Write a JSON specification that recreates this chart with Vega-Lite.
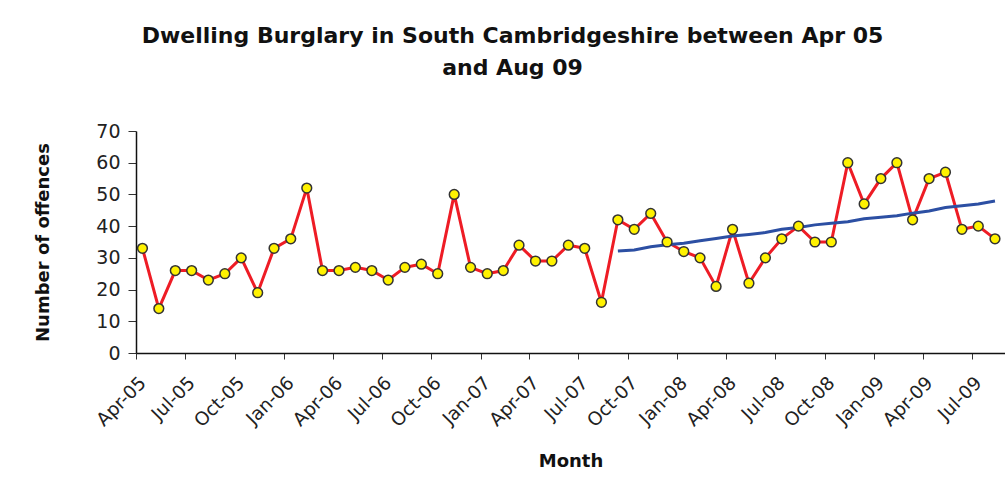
{
  "$schema": "https://vega.github.io/schema/vega-lite/v6.json",
  "width": 869,
  "height": 222,
  "autosize": "none",
  "padding": {"left": 136, "top": 131, "right": 0, "bottom": 142},
  "background": "white",
  "config": {
    "view": {"stroke": null},
    "axisY": {
      "values": [0, 10, 20, 30, 40, 50, 60, 70],
      "labelOverlap": false,
      "labelFlush": false,
      "labelFont": "DejaVu Sans",
      "labelFontSize": 19,
      "labelColor": "#222222",
      "labelPadding": 8,
      "tickColor": "#333333",
      "tickSize": 8,
      "domainColor": "#111111",
      "domainWidth": 1.5,
      "grid": false,
      "titleFont": "DejaVu Sans",
      "titleFontSize": 18,
      "titleFontWeight": "bold",
      "titleColor": "#111111",
      "titlePadding": 43
    }
  },
  "title": {
    "text": ["Dwelling Burglary in South Cambridgeshire between Apr 05", "and Aug 09"],
    "font": "DejaVu Sans",
    "fontSize": 22,
    "fontWeight": "bold",
    "color": "#111111",
    "anchor": "middle",
    "frame": "group",
    "dx": -58,
    "offset": 42,
    "lineHeight": 32
  },
  "data": {
    "values": [
      {"month": "2005-04-01", "offences": 33},
      {"month": "2005-05-01", "offences": 14},
      {"month": "2005-06-01", "offences": 26},
      {"month": "2005-07-01", "offences": 26},
      {"month": "2005-08-01", "offences": 23},
      {"month": "2005-09-01", "offences": 25},
      {"month": "2005-10-01", "offences": 30},
      {"month": "2005-11-01", "offences": 19},
      {"month": "2005-12-01", "offences": 33},
      {"month": "2006-01-01", "offences": 36},
      {"month": "2006-02-01", "offences": 52},
      {"month": "2006-03-01", "offences": 26},
      {"month": "2006-04-01", "offences": 26},
      {"month": "2006-05-01", "offences": 27},
      {"month": "2006-06-01", "offences": 26},
      {"month": "2006-07-01", "offences": 23},
      {"month": "2006-08-01", "offences": 27},
      {"month": "2006-09-01", "offences": 28},
      {"month": "2006-10-01", "offences": 25},
      {"month": "2006-11-01", "offences": 50},
      {"month": "2006-12-01", "offences": 27},
      {"month": "2007-01-01", "offences": 25},
      {"month": "2007-02-01", "offences": 26},
      {"month": "2007-03-01", "offences": 34},
      {"month": "2007-04-01", "offences": 29},
      {"month": "2007-05-01", "offences": 29},
      {"month": "2007-06-01", "offences": 34},
      {"month": "2007-07-01", "offences": 33},
      {"month": "2007-08-01", "offences": 16},
      {"month": "2007-09-01", "offences": 42, "trend": 32.2},
      {"month": "2007-10-01", "offences": 39, "trend": 32.5},
      {"month": "2007-11-01", "offences": 44, "trend": 33.5},
      {"month": "2007-12-01", "offences": 35, "trend": 34.1},
      {"month": "2008-01-01", "offences": 32, "trend": 34.6},
      {"month": "2008-02-01", "offences": 30, "trend": 35.4},
      {"month": "2008-03-01", "offences": 21, "trend": 36.1},
      {"month": "2008-04-01", "offences": 39, "trend": 36.9},
      {"month": "2008-05-01", "offences": 22, "trend": 37.4},
      {"month": "2008-06-01", "offences": 30, "trend": 38.0},
      {"month": "2008-07-01", "offences": 36, "trend": 39.0},
      {"month": "2008-08-01", "offences": 40, "trend": 39.6},
      {"month": "2008-09-01", "offences": 35, "trend": 40.4},
      {"month": "2008-10-01", "offences": 35, "trend": 40.9},
      {"month": "2008-11-01", "offences": 60, "trend": 41.4},
      {"month": "2008-12-01", "offences": 47, "trend": 42.3},
      {"month": "2009-01-01", "offences": 55, "trend": 42.8},
      {"month": "2009-02-01", "offences": 60, "trend": 43.3},
      {"month": "2009-03-01", "offences": 42, "trend": 44.1},
      {"month": "2009-04-01", "offences": 55, "trend": 44.8},
      {"month": "2009-05-01", "offences": 57, "trend": 45.9},
      {"month": "2009-06-01", "offences": 39, "trend": 46.4},
      {"month": "2009-07-01", "offences": 40, "trend": 47.0},
      {"month": "2009-08-01", "offences": 36, "trend": 47.9}
    ]
  },
  "encoding": {
    "x": {
      "field": "month",
      "timeUnit": "utcyearmonth",
      "type": "temporal",
      "bandPosition": 0.4,
      "scale": {
        "type": "utc",
        "domain": [
          {"year": 2005, "month": 4, "date": 1, "utc": true},
          {"year": 2009, "month": 9, "date": 1, "utc": true}
        ]
      },
      "axis": {
        "title": "Month",
        "values": [
          {"year": 2005, "month": 4, "date": 1, "utc": true},
          {"year": 2005, "month": 7, "date": 1, "utc": true},
          {"year": 2005, "month": 10, "date": 1, "utc": true},
          {"year": 2006, "month": 1, "date": 1, "utc": true},
          {"year": 2006, "month": 4, "date": 1, "utc": true},
          {"year": 2006, "month": 7, "date": 1, "utc": true},
          {"year": 2006, "month": 10, "date": 1, "utc": true},
          {"year": 2007, "month": 1, "date": 1, "utc": true},
          {"year": 2007, "month": 4, "date": 1, "utc": true},
          {"year": 2007, "month": 7, "date": 1, "utc": true},
          {"year": 2007, "month": 10, "date": 1, "utc": true},
          {"year": 2008, "month": 1, "date": 1, "utc": true},
          {"year": 2008, "month": 4, "date": 1, "utc": true},
          {"year": 2008, "month": 7, "date": 1, "utc": true},
          {"year": 2008, "month": 10, "date": 1, "utc": true},
          {"year": 2009, "month": 1, "date": 1, "utc": true},
          {"year": 2009, "month": 4, "date": 1, "utc": true},
          {"year": 2009, "month": 7, "date": 1, "utc": true}
        ],
        "labelExpr": "utcFormat(datum.value, '%b-%y')",
        "labelAngle": -45,
        "labelFont": "DejaVu Sans",
        "labelFontSize": 18.5,
        "labelColor": "#222222",
        "labelPadding": 14,
        "labelOverlap": false,
        "labelFlush": false,
        "tickColor": "#333333",
        "tickSize": 6,
        "domainColor": "#111111",
        "domainWidth": 1.5,
        "grid": false,
        "titleFont": "DejaVu Sans",
        "titleFontSize": 18,
        "titleFontWeight": "bold",
        "titleColor": "#111111",
        "titlePadding": 22
      }
    }
  },
  "layer": [
    {
      "mark": {"type": "line", "color": "#EE1C25", "strokeWidth": 3},
      "encoding": {
        "y": {
          "field": "offences",
          "type": "quantitative",
          "scale": {"domain": [0, 70], "nice": false},
          "axis": {"title": "Number of offences"}
        }
      }
    },
    {
      "transform": [{"filter": "isValid(datum.trend)"}],
      "mark": {"type": "line", "color": "#2C4FA3", "strokeWidth": 3},
      "encoding": {"y": {"field": "trend", "type": "quantitative", "axis": {"title": "Number of offences"}}}
    },
    {
      "mark": {"type": "point", "shape": "circle", "filled": true, "fill": "#FFF200", "stroke": "#333333", "strokeWidth": 1.5, "size": 95, "opacity": 1},
      "encoding": {"y": {"field": "offences", "type": "quantitative", "axis": {"title": "Number of offences"}}}
    }
  ]
}
